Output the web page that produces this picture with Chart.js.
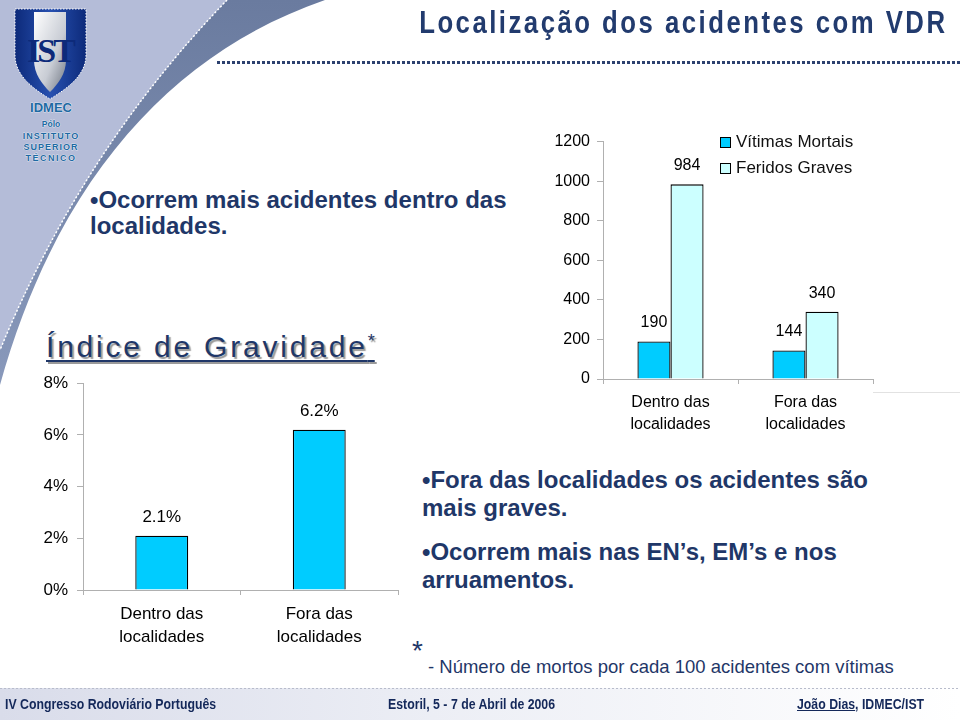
<!DOCTYPE html>
<html>
<head>
<meta charset="utf-8">
<script src="https://cdn.jsdelivr.net/npm/chart.js@4.4.1/dist/chart.umd.min.js"></script>
<style>
body{margin:0;width:960px;height:720px;overflow:hidden;background:#fff;position:relative;font-family:"Liberation Sans",Arial,sans-serif}
.abs{position:absolute;white-space:nowrap}
#deco{position:absolute;left:0;top:0}
#title{right:12px;top:4px;font:bold 31px "Liberation Sans",Arial,sans-serif;letter-spacing:3px;color:#223b6e;line-height:38px;transform:scaleX(0.83);transform-origin:right center}
#dots{left:217px;top:61px;width:743px;height:3px;background:repeating-linear-gradient(90deg,#2c416f 0 3px,transparent 3px 5px)}
.bul{font-weight:bold;font-size:24px;color:#1f3768}
#b1{left:90px;top:187px;line-height:26px}
#b2{left:422px;top:466px;line-height:28px}
#b3{left:422px;top:538px;line-height:28px}
#ig{left:46px;top:322px;font-size:30px;line-height:38px;letter-spacing:2.8px;color:#1f3768;text-decoration:underline;text-decoration-thickness:2px;text-underline-offset:3px;text-shadow:2px 2px 1px #9a9a9a}
#ig sup{font-size:18px;letter-spacing:0;vertical-align:10px;text-decoration:none}
#star{left:412px;top:636px;font-size:28px;line-height:30px;color:#1f3768}
#nota{left:428px;top:655px;font-size:18.5px;line-height:24px;color:#1f3768}
#foot{left:0;top:688px;width:960px;height:32px;background:linear-gradient(90deg,#d9dcea 0%,#eceef5 45%,#ffffff 100%)}
#footdots{left:0;top:688px;width:960px;height:1px;background:repeating-linear-gradient(90deg,#b8bccb 0 2px,transparent 2px 4px)}
.ft{top:695px;font:bold 15px "Liberation Sans",Arial,sans-serif;color:#14285a;line-height:18px;transform:scaleX(0.82);transform-origin:left center}
#c1{left:0;top:364px}
#c2{left:540px;top:125px}
#greyline{left:873px;top:392px;width:87px;height:1px;background:#e2e2e2}
#legend{left:720px;top:129px;font-size:17px;color:#111;line-height:26px}
#legend div{display:flex;align-items:center}
#legend span.sq{display:inline-block;width:9px;height:9px;border:1px solid #000;margin-right:5px}
</style>
</head>
<body>
<svg id="deco" width="960" height="400" viewBox="0 0 960 400">
<defs>
<linearGradient id="band" x1="0" y1="0" x2="0" y2="1">
<stop offset="0" stop-color="#6a7b9f"/>
<stop offset="1" stop-color="#8999bb"/>
</linearGradient>
<linearGradient id="shield" x1="0" y1="0" x2="1" y2="0">
<stop offset="0" stop-color="#0d2a7a"/>
<stop offset="0.5" stop-color="#2750b0"/>
<stop offset="1" stop-color="#0d2a7a"/>
</linearGradient>
<linearGradient id="silver" x1="0" y1="0" x2="1" y2="1">
<stop offset="0" stop-color="#ffffff"/>
<stop offset="0.6" stop-color="#c8ccd4"/>
<stop offset="1" stop-color="#6d7480"/>
</linearGradient>
</defs>
<path d="M0,0 L227,0 C160,70 70,180 0,350 Z" fill="#b4bcd8"/>
<path d="M227,0 L325,0 C180,50 60,170 0,385 L0,350 C70,180 160,70 227,0 Z" fill="url(#band)"/>
<path d="M227,0 C160,70 70,180 0,350" fill="none" stroke="#fff" stroke-width="1.5" stroke-dasharray="2 2"/>
<path d="M15,9 L86,9 L86,55 C86,75 68,88 50,99 C32,88 15,75 15,55 Z" fill="url(#shield)" stroke="#fff" stroke-width="1" stroke-dasharray="1.5 1.5"/>
<path d="M34,12 L66,12 L66,60 C66,74 58,84 50,92 C42,84 34,74 34,60 Z" fill="url(#silver)"/>
<text x="50" y="62" text-anchor="middle" font-family="Liberation Serif,serif" font-weight="bold" font-size="34" fill="#0d2a7a" letter-spacing="-3">IST</text>
<g font-family="Liberation Sans,sans-serif" font-weight="bold" text-anchor="middle" fill="#1d6aa3" stroke="#fff" stroke-width="0.6" paint-order="stroke">
<text x="51" y="112" font-size="13">IDMEC</text>
<text x="51" y="127" font-size="8.5">Pólo</text>
<text x="51" y="139" font-size="9" letter-spacing="1">INSTITUTO</text>
<text x="51" y="150" font-size="9" letter-spacing="1">SUPERIOR</text>
<text x="51" y="161" font-size="9" letter-spacing="1.5">TÉCNICO</text>
</g>
</svg>

<div id="title" class="abs">Localização dos acidentes com VDR</div>
<div id="dots" class="abs"></div>

<div id="b1" class="abs bul">•Ocorrem mais acidentes dentro das<br>localidades.</div>
<div id="ig" class="abs">Índice de Gravidade<sup>*</sup></div>
<div id="b2" class="abs bul">•Fora das localidades os acidentes são<br>mais graves.</div>
<div id="b3" class="abs bul">•Ocorrem mais nas EN’s, EM’s e nos<br>arruamentos.</div>
<div id="star" class="abs">*</div>
<div id="nota" class="abs">- Número de mortos por cada 100 acidentes com vítimas</div>

<div id="greyline" class="abs"></div>
<div id="c1" class="abs"><canvas id="chartIG" width="410" height="296"></canvas></div>
<div id="c2" class="abs"><canvas id="chartVit" width="420" height="325"></canvas></div>
<div id="legend" class="abs"></div>

<div id="foot" class="abs"></div>
<div id="footdots" class="abs"></div>
<div class="abs ft" style="left:5px">IV Congresso Rodoviário Português</div>
<div class="abs ft" style="left:388px">Estoril, 5 - 7 de Abril de 2006</div>
<div class="abs ft" style="left:797px"><u>João Dias</u>, IDMEC/IST</div>

<script>
// dados
const categories=[["Dentro das","localidades"],["Fora das","localidades"]]
const gravidade=[2.1,6.2]
const gravTicks=[0,2,4,6,8]
const seriesNames=["Vítimas Mortais","Feridos Graves"]
const vitimasMortais=[190,144]
const feridosGraves=[984,340]
const vitTicks=[0,200,400,600,800,1000,1200]
const seriesColors=["#00ccff","#ccffff"]

const FONT="'Liberation Sans', Arial, sans-serif"

const valueLabels={
id:"valueLabels",
afterDatasetsDraw(chart,args,opts){
const ctx=chart.ctx
ctx.save()
ctx.font=opts.size+"px "+FONT
ctx.fillStyle="#000"
ctx.textAlign="center"
ctx.textBaseline="middle"
chart.data.datasets.forEach((ds,i)=>{
chart.getDatasetMeta(i).data.forEach((bar,j)=>{
ctx.fillText(opts.format(ds.data[j]),bar.x,bar.y-18.5)
})
})
ctx.restore()
}
}

function axes(ticks,fmt,size,yWidth,xHeight,ypad){
return {
x:{
grid:{drawOnChartArea:false,drawTicks:true,tickLength:5,color:"#b0b0b0",offset:true},
border:{color:"#b0b0b0"},
ticks:{color:"#000",font:{family:FONT,size:size,lineHeight:1.35},padding:8,maxRotation:0},
afterFit(s){s.height=xHeight}
},
y:{
min:ticks[0],max:ticks[ticks.length-1],
grid:{drawOnChartArea:false,drawTicks:true,tickLength:6,color:"#b0b0b0"},
border:{color:"#b0b0b0"},
afterBuildTicks(s){s.ticks=ticks.map(v=>({value:v}))},
ticks:{color:"#000",font:{family:FONT,size:size},padding:ypad,callback:fmt},
afterFit(s){s.width=yWidth}
}
}
}

new Chart(document.getElementById("chartIG"),{
type:"bar",
data:{
labels:categories,
datasets:[{
data:gravidade,
backgroundColor:seriesColors[0],
borderColor:"#000",
borderWidth:1.3,
categoryPercentage:0.336,
barPercentage:1
}]
},
options:{
responsive:false,
animation:false,
devicePixelRatio:1,
layout:{padding:{top:6,right:12,left:0,bottom:0}},
plugins:{legend:{display:false},tooltip:{enabled:false},
valueLabels:{size:17,format:v=>v.toFixed(1)+"%"}},
scales:axes(gravTicks,v=>v+"%",17,83,70,9)
},
plugins:[valueLabels]
})

new Chart(document.getElementById("chartVit"),{
type:"bar",
data:{
labels:categories,
datasets:[
{label:seriesNames[0],data:vitimasMortais,backgroundColor:seriesColors[0],borderColor:"#000",borderWidth:1.3,categoryPercentage:0.49,barPercentage:1},
{label:seriesNames[1],data:feridosGraves,backgroundColor:seriesColors[1],borderColor:"#000",borderWidth:1.3,categoryPercentage:0.49,barPercentage:1}
]
},
options:{
responsive:false,
animation:false,
devicePixelRatio:1,
layout:{padding:{top:5,right:87,left:0,bottom:0}},
plugins:{legend:{display:false},tooltip:{enabled:false},
valueLabels:{size:16,format:v=>String(v)}},
scales:axes(vitTicks,v=>v,16,63,71,7)
},
plugins:[valueLabels]
})

let lg=""
seriesNames.forEach((n,i)=>{
lg+=`<div><span class="sq" style="background:${seriesColors[i]}"></span>${n}</div>`
})
document.getElementById("legend").innerHTML=lg
</script>
</body>
</html>
